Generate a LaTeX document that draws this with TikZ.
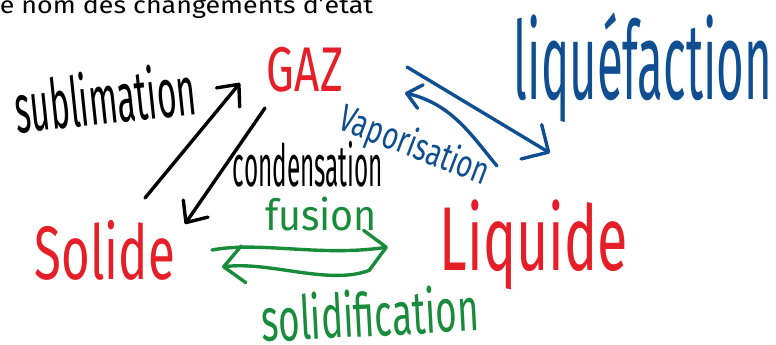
\documentclass[tikz,border=0pt]{standalone}
\usepackage{fontspec}
\setmainfont{Fira Sans}
\usepackage{graphicx}
\usetikzlibrary{arrows.meta}

\definecolor{inkred}{RGB}{230,30,40}
\definecolor{inkblue}{RGB}{14,78,145}
\definecolor{inkgreen}{RGB}{24,140,58}

% scale a word so that it fills a box of the given width and total height (in pt)
\newcommand{\fitto}[3]{\resizebox*{#1pt}{#2pt}{#3}}

\tikzset{
  word/.style={inner sep=0pt, outer sep=0pt},
  handarrow/.style={line width=3.4pt, line cap=round, line join=round,
    -{Straight Barb[length=17pt,width=30pt,round]}},
}

\begin{document}
\begin{tikzpicture}[x=1pt,y=-1pt]
  \useasboundingbox (0,0) rectangle (776,345);
  \clip (0,0) rectangle (776,345);

  % heading, partly cut by the page edge
  \node[word, anchor=south west] (title) at (-8,19)
    {\fitto{381}{24}{le nom des changements d'état}};

  % states
  \node[word, text=inkred] (gaz) at (305,69.5) {\fitto{76}{45}{GAZ}};
  \node[word, text=inkred] (solide) at (105,250) {\fitto{140}{60}{Solide}};
  \node[word, text=inkred] (liquide) at (534,245) {\fitto{188}{90}{Liquide}};

  % names of the changes
  \node[word, rotate=6] (sublim) at (105,97) {\fitto{182}{55}{sublimation}};
  \node[word] (conden) at (308,164) {\fitto{150}{46}{condensation}};
  \node[word, text=inkblue, rotate=-21] (vapo) at (414,147) {\fitto{158}{38}{Vaporisation}};
  \node[word, text=inkblue] (liquef) at (643,68) {\fitto{258}{110}{liquéfaction}};
  \node[word, text=inkgreen] (fusion) at (321,214) {\fitto{112}{34}{fusion}};
  \node[word, text=inkgreen, rotate=3] (solidif) at (370,313) {\fitto{218}{48}{solidification}};

  % arrow end points
  \coordinate (subA) at (145,198);  \coordinate (subB) at (240,83);
  \coordinate (conA) at (265,108);  \coordinate (conB) at (185,224);
  \coordinate (liqA) at (407,67);   \coordinate (liqB) at (550,153);
  \coordinate (vapA) at (497,166);  \coordinate (vapB) at (405,93);
  \coordinate (fusA) at (212,250);  \coordinate (fusB) at (388,247);
  \coordinate (solA) at (370,270);  \coordinate (solB) at (222,267);

  \draw[handarrow] (subA) -- (subB);
  \draw[handarrow] (conA) -- (conB);
  \draw[handarrow, inkblue, -{Straight Barb[length=20pt,width=40pt,round]}] (liqA) -- (liqB);
  \draw[handarrow, inkblue, -{Straight Barb[length=14pt,width=24pt,round]}]
    (vapA) .. controls (472,136) and (452,104) .. (vapB);
  \draw[handarrow, inkgreen, -{Straight Barb[length=20pt,width=40pt,round]}]
    (fusA) .. controls (260,241) and (320,257) .. (fusB);
  \draw[handarrow, inkgreen, -{Straight Barb[length=20pt,width=37pt,round]}]
    (solA) .. controls (330,286) and (270,261) .. (solB);
\end{tikzpicture}
\end{document}
